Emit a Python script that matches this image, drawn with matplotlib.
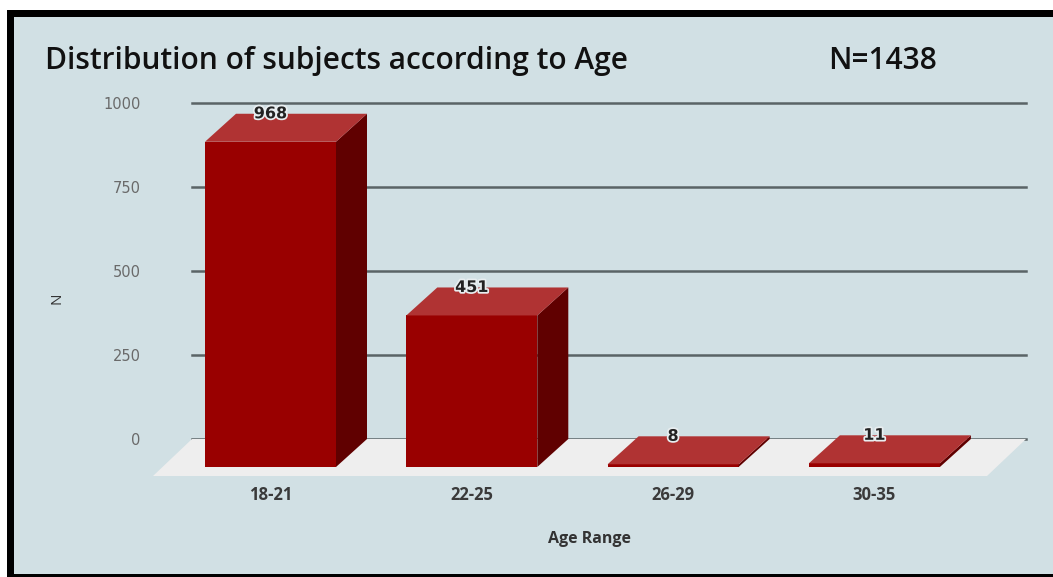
import matplotlib
matplotlib.use("Agg")
import matplotlib.pyplot as plt
from matplotlib.patches import Polygon, Rectangle
import matplotlib.patheffects as pe

categories = ["18-21", "22-25", "26-29", "30-35"]
values = [968, 451, 8, 11]
yticks = [0, 250, 500, 750, 1000]
title = "Distribution of subjects according to Age"
n_text = "N=1438"
xlabel = "Age Range"
ylabel = "N"

FONT = ["Open Sans", "DejaVu Sans"]
plt.rcParams["font.family"] = FONT

W, H = 1053, 577
fig = plt.figure(figsize=(W / 100, H / 100), dpi=100)
fig.patch.set_facecolor("white")

# frame
fig.patches.append(Rectangle((7 / W, 0), 1.2, (H - 10) / H, transform=fig.transFigure,
                             facecolor="black", edgecolor="none", zorder=-10))
fig.patches.append(Rectangle((14 / W, 3 / H), 1.2, (H - 20) / H, transform=fig.transFigure,
                             facecolor="#d1e0e4", edgecolor="none", zorder=-9))

# axes = back plane
left_px, right_px, top_px, bot_px = 192, 1026, 103, 439
ax = fig.add_axes([left_px / W, (H - bot_px) / H, (right_px - left_px) / W, (bot_px - top_px) / H])
ax.set_facecolor("none")
x0 = 270.5
sp = 201.3
ax.set_xlim((left_px - x0) / sp, (right_px - x0) / sp)
ax.set_ylim(0, 1000)
for s in ax.spines.values():
    s.set_visible(False)

ax.set_yticks(yticks)
ax.set_yticklabels([str(t) for t in yticks], color="#6a6a6a", fontsize=10.5,
                   fontfamily="DejaVu Sans")
ax.tick_params(axis="y", length=0, pad=37)
ax.yaxis.grid(True, color="#5a6466", linewidth=1.8)
for gl in ax.get_ygridlines():
    gl.set_clip_on(False)
ax.set_axisbelow(True)
ax.set_xticks(range(len(categories)))
ax.set_xticklabels(categories, color="#3a3a3a", fontsize=12, fontweight="bold")
ax.tick_params(axis="x", length=0, pad=34)

ax.set_xlabel(xlabel, fontsize=11.5, fontweight="bold", color="#333333")
ax.xaxis.set_label_coords((590 - left_px) / (right_px - left_px), -(539 - bot_px) / (bot_px - top_px))
ax.xaxis.label.set_va("center")
ax.set_ylabel(ylabel, fontsize=11, color="#333333")
ax.yaxis.set_label_coords(-(left_px - 57) / (right_px - left_px), (bot_px - 298) / (bot_px - top_px))
ax.yaxis.label.set_va("center")

ppv = (bot_px - top_px) / 1000.0  # px per unit
dx = 31 / sp
dy = 28 / ppv
w = 131 / sp

# floor
fdx = 39 / sp
fdy = 37 / ppv
xl, xr = ax.get_xlim()
floor = Polygon([(xl, 0), (xr, 0), (xr - fdx, -fdy), (xl - fdx, -fdy)], closed=True,
                facecolor="#eeeeee", edgecolor="none", clip_on=False, zorder=1)
ax.add_patch(floor)

front_c = "#990000"
top_c = "#b03333"
side_c = "#600000"
for i, v in enumerate(values):
    xa, xb = i - w / 2, i + w / 2
    ax.bar(i, v, width=w, bottom=-dy, color=front_c, edgecolor="none", clip_on=False, zorder=3)
    side = Polygon([(xb, -dy), (xb + dx, 0), (xb + dx, v), (xb, v - dy)], closed=True,
                   facecolor=side_c, edgecolor="none", clip_on=False, zorder=3)
    top = Polygon([(xa, v - dy), (xb, v - dy), (xb + dx, v), (xa + dx, v)], closed=True,
                  facecolor=top_c, edgecolor="none", clip_on=False, zorder=4)
    ax.add_patch(side)
    ax.add_patch(top)
    ax.text(i, v, str(v), ha="center", va="center", fontsize=11.5, fontweight="bold",
            fontfamily="DejaVu Sans", color="#222222", zorder=6,
            path_effects=[pe.withStroke(linewidth=2.5, foreground="#e8eef0")])

fig.text(45 / W, 1 - 61 / H, title, fontsize=21.5, fontweight="semibold", color="#111111",
         ha="left", va="center")
fig.text(828 / W, 1 - 61 / H, n_text, fontsize=21.5, fontweight="semibold", color="#111111",
         ha="left", va="center")

fig.savefig("out.png", dpi=100, facecolor=fig.get_facecolor())
